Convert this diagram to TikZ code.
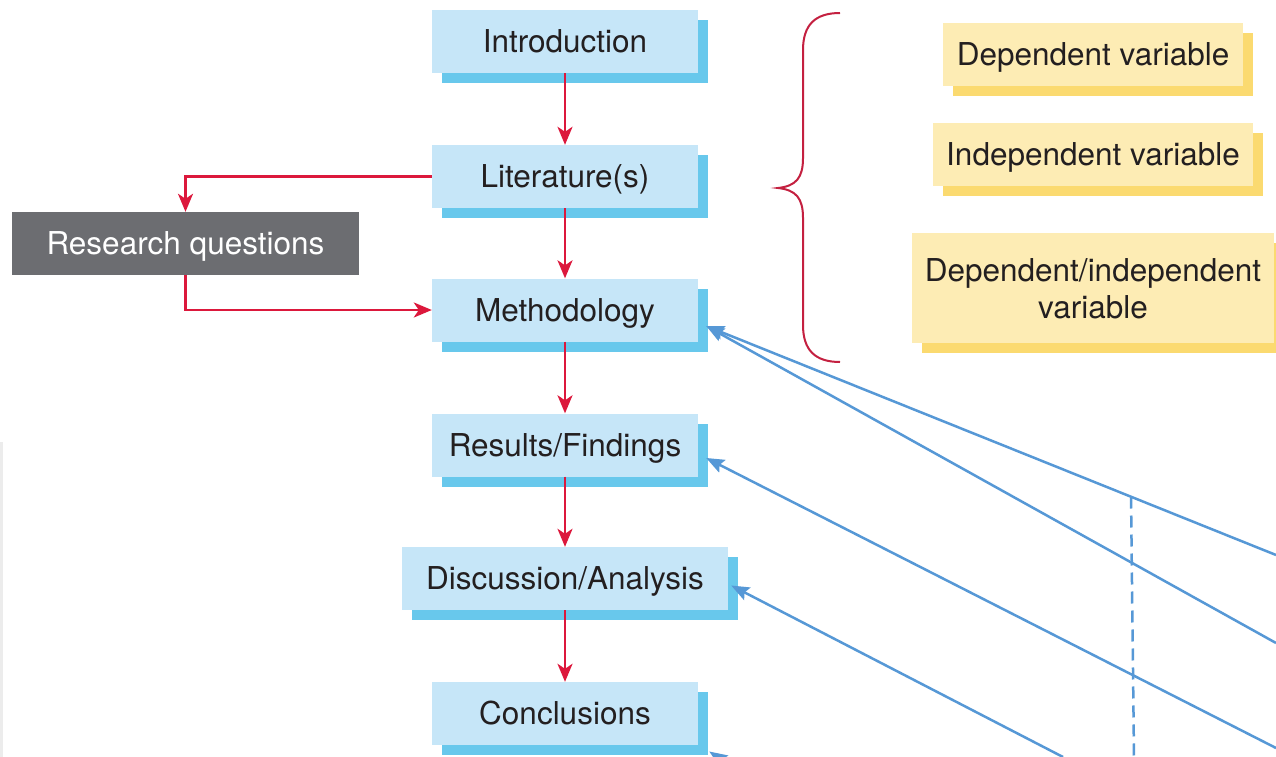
\documentclass[tikz,border=0pt]{standalone}
\usepackage{fontspec}
\setmainfont{TeX Gyre Heros}
\usetikzlibrary{arrows.meta,shadows,calc}
\definecolor{boxblue}{RGB}{198,230,248}
\definecolor{shblue}{RGB}{104,200,236}
\definecolor{boxyel}{RGB}{253,236,180}
\definecolor{shyel}{RGB}{251,218,112}
\definecolor{rqgray}{RGB}{108,109,113}
\definecolor{flowred}{RGB}{220,24,60}
\definecolor{bracered}{RGB}{196,32,64}
\definecolor{linkblue}{RGB}{86,152,214}
\definecolor{txt}{RGB}{35,31,32}
\begin{document}
\begin{tikzpicture}[x=1pt,y=-1pt,
  basebox/.style={draw=none, inner sep=0pt, minimum height=63pt, text height=22.5pt, text depth=0pt,
    font=\fontsize{31.5}{37}\selectfont, align=center},
  bluebox/.style={basebox, fill=boxblue, text=txt, minimum width=266pt,
    general shadow={fill=shblue, shadow xshift=10pt, shadow yshift=-10pt}},
  yelbox/.style={basebox, fill=boxyel, text=txt,
    general shadow={fill=shyel, shadow xshift=10pt, shadow yshift=-10pt}},
  rqbox/.style={basebox, fill=rqgray, text=white, minimum width=347pt},
  flow/.style={draw=flowred, line width=2.4pt, -{Stealth[length=18pt,width=15pt,inset=5pt]}},
  link/.style={draw=linkblue, line width=2.5pt, -{Stealth[length=18pt,width=14pt,inset=3pt]}},
  guide/.style={draw=linkblue, line width=2.5pt, dash pattern=on 12pt off 7pt},
  brace/.style={draw=bracered, line width=2pt}
]
\clip (0,0) rectangle (1276,757);
\fill[white] (0,0) rectangle (1276,757);
\fill[gray!15] (0,442) rectangle (3,757);

% main flow
\node[bluebox] (intro) at (565,41.5) {Introduction};
\node[bluebox] (lit) at (565,176.5) {Literature(s)};
\node[bluebox] (meth) at (565,310) {Methodology};
\node[bluebox] (res) at (565,445) {Results/Findings};
\node[bluebox, minimum width=326pt] (disc) at (565,578.5) {Discussion/Analysis};
\node[bluebox] (concl) at (565,713.5) {Conclusions};
\node[rqbox] (rq) at (185.5,243.5) {Research questions};

% variables
\node[yelbox, minimum width=300pt] (dep) at (1093,54.5) {Dependent variable};
\node[yelbox, minimum width=320pt] (indep) at (1093,154.5) {Independent variable};
\node[yelbox, minimum width=362pt, minimum height=110pt, text height=60pt, text depth=0pt] (both) at (1093,288) {Dependent/independent\\variable};

% brace
\draw[brace] (840,13) .. controls (815,13) and (803,25) .. (803,50) -- (803,158)
  .. controls (803,178) and (796,186) .. (778,188)
  .. controls (796,190) and (803,198) .. (803,218) -- (803,325)
  .. controls (803,350) and (815,362) .. (840,362);

% red flow arrows
\draw[flow] (intro.south) -- (lit.north);
\draw[flow] (lit.south) -- (meth.north);
\draw[flow] (meth.south) -- (res.north);
\draw[flow] (res.south) -- (disc.north);
\draw[flow] (disc.south) -- (concl.north);
\draw[flow] (lit.west) -| (rq.north);
\draw[flow] (rq.south) |- (meth.west);

% blue links
\coordinate (mtip) at ([shift={(8,16)}]meth.east);
\coordinate (rtip) at ([shift={(8,13)}]res.east);
\coordinate (dtip) at ([shift={(3,7)}]disc.east);
\coordinate (ctip) at ([shift={(11,38)}]concl.east);
\coordinate (m1) at (1276,555);
\coordinate (m2) at (1276,643);
\coordinate (r1) at (1276,748);
\coordinate (d1) at (1063,757);
\coordinate (c1) at (745,775);
\coordinate (dtop) at (1131,496.5);
\coordinate (dbot) at (1134,757);
\draw[guide] (dtop) -- (dbot);
\draw[link] (m1) -- (mtip);
\draw[link] (m2) -- (mtip);
\draw[link] (r1) -- (rtip);
\draw[link] (d1) -- (dtip);
\draw[link] (c1) -- (ctip);
\end{tikzpicture}
\end{document}
